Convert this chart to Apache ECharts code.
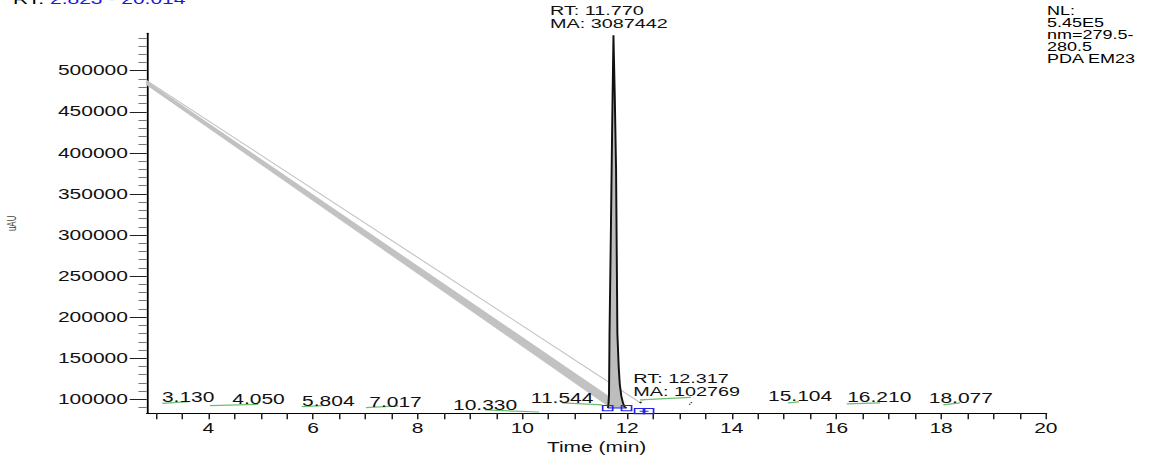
<!DOCTYPE html>
<html>
<head>
<meta charset="utf-8">
<script src="https://cdn.jsdelivr.net/npm/echarts@6/dist/echarts.min.js"></script>
<style>
html,body{margin:0;padding:0;overflow:hidden;background:#fff;width:1160px;height:457px}
#chart{width:774px;height:457px;transform:scaleX(1.5);transform-origin:0 0}
</style>
</head>
<body>
<div id="chart"></div>
<script>
// ---------- data ----------
const timeRange = [2.823, 20.014];
const signalRange = [83000, 545500];
const xTickLabels = [4, 6, 8, 10, 12, 14, 16, 18, 20];
const xTicks = [3, 3.5, 4, 4.5, 5, 5.5, 6, 6.5, 7, 7.5, 8, 8.5, 9, 9.5, 10, 10.5, 11, 11.5, 12, 12.5, 13, 13.5, 14, 14.5, 15, 15.5, 16, 16.5, 17, 17.5, 18, 18.5, 19, 19.5, 20];
const yTickLabels = [100000, 150000, 200000, 250000, 300000, 350000, 400000, 450000, 500000];
const yMinorTicks = [90000, 110000, 120000, 130000, 140000, 160000, 170000, 180000, 190000, 210000, 220000, 230000, 240000, 260000, 270000, 280000, 290000, 310000, 320000, 330000, 340000, 360000, 370000, 380000, 390000, 410000, 420000, 430000, 440000, 460000, 470000, 480000, 490000, 510000, 520000, 530000, 540000];

// main peak trace (RT 11.770)
const peakTime = [11.635, 11.645, 11.655, 11.665, 11.69, 11.715, 11.74, 11.765, 11.79, 11.805, 11.815, 11.84, 11.86, 11.89, 11.92, 11.95, 11.99];
const peakSignal = [89500, 95000, 105000, 180000, 300000, 430000, 543000, 470000, 380000, 260000, 180000, 140000, 119000, 104000, 96000, 91000, 89500];

// diagonal drift band and thin line
const bandTime = [2.823, 11.885, 11.60, 2.823];
const bandSignal = [487000, 93500, 93500, 482700];
const driftTime = [2.823, 12.25];
const driftSignal = [488000, 96000];

// peak baselines (green)
const baseT0 = [3.121, 4.03, 5.785, 7.013, 9.287, 10.76, 12.245, 15.075, 16.197, 18.043];
const baseV0 = [95100, 92300, 91100, 89900, 87100, 95600, 99300, 95600, 94400, 93200];
const baseT1 = [3.618, 4.955, 6.293, 7.63, 10.324, 11.525, 13.22, 15.285, 16.833, 18.36];
const baseV1 = [97300, 93900, 92700, 92000, 84600, 93200, 102400, 96800, 95600, 95600];

// peak labels
const peakLabels = ['3.130', '4.050', '5.804', '7.017', '10.330', '11.544', '15.104', '16.210', '18.077'];
const peakLabelTime = [3.616, 4.959, 6.293, 7.577, 9.287, 10.76, 15.305, 16.818, 18.377];
const peakLabelSignal = [102400, 99600, 97200, 96300, 92300, 101200, 103900, 102100, 100900];

// annotated peaks
const annotRT = ['RT: 11.770', 'RT: 12.317'];
const annotMA = ['MA: 3087442', 'MA: 102769'];
const annotTime = [10.528, 12.12];
const annotSignalRT = [573500, 125400];
const annotSignalMA = [557100, 108900];

// integration markers
const markATime = [11.63, 11.99];
const markASignal = [89300, 89300];
const markBTime = [12.24, 12.41];
const markBSignal = [85600, 85600];

// small peak traces
const smallTime = [12.245, 12.30];
const smallSignal = [95500, 98500];
const tinyTime = [13.19, 13.25];
const tinySignal = [93500, 97500];

// header texts
const rangeText = ['RT: ', '2.823', ' - ', '20.014'];
const infoLines = ['NL:', '5.45E5', 'nm=279.5-', '280.5', 'PDA EM23'];

// ---------- chart ----------
const FONT = '"Liberation Sans", Arial, sans-serif';
const pts = (ts, vs) => ts.map((t, i) => [t, vs[i]]);
const chart = echarts.init(document.getElementById('chart'), null, {renderer: 'svg'});

const option = {
  animation: false,
  backgroundColor: '#fff',
  grid: {left: 97.8, right: 76.3, top: 33.3, bottom: 43.7, outerBoundsMode: 'none', containLabel: false},
  xAxis: {
    type: 'value', min: timeRange[0], max: timeRange[1],
    axisLine: {show: true, onZero: false, lineStyle: {color: '#000', width: 1}},
    axisTick: {show: true, customValues: xTicks, length: 6, lineStyle: {color: '#222', width: 1}},
    axisLabel: {customValues: xTickLabels, formatter: v => String(v), fontSize: 14, fontFamily: FONT, color: '#111', margin: 8},
    splitLine: {show: false},
    name: 'Time (min)', nameLocation: 'middle', nameGap: 24,
    nameTextStyle: {fontSize: 14, fontFamily: FONT, color: '#111'}
  },
  yAxis: [{
    type: 'value', position: 'left', min: signalRange[0], max: signalRange[1],
    axisLine: {show: true, onZero: false, lineStyle: {color: '#000', width: 1.2}},
    axisTick: {show: true, customValues: yTickLabels, length: 11.3, lineStyle: {color: '#222', width: 1}},
    axisLabel: {customValues: yTickLabels, formatter: v => String(v), fontSize: 14, fontFamily: FONT, color: '#111', margin: 12.5},
    splitLine: {show: false},
    name: 'uAU', nameLocation: 'middle', nameRotate: 90, nameGap: 86,
    nameTextStyle: {fontSize: 8, fontFamily: FONT, color: '#444'}
  }, {
    type: 'value', position: 'left', min: signalRange[0], max: signalRange[1],
    axisLine: {show: false},
    axisTick: {show: true, customValues: yMinorTicks, length: 5.5, lineStyle: {color: '#777', width: 1}},
    axisLabel: {show: false},
    splitLine: {show: false}
  }],
  graphic: [{
    type: 'text', left: 8.7, top: -8, silent: true,
    style: {
      text: '{k|' + rangeText[0] + '}{v|' + rangeText[1] + '}{d|' + rangeText[2] + '}{v|' + rangeText[3] + '}',
      rich: {
        k: {fill: '#000', fontSize: 14, fontFamily: FONT},
        v: {fill: '#1a1adb', fontSize: 14, fontFamily: FONT},
        d: {fill: '#a9a9d9', fontSize: 14, fontFamily: FONT}
      }
    }
  }, {
    type: 'text', left: 698, top: 5, silent: true,
    style: {
      text: infoLines.join('\n'),
      fill: '#000', fontSize: 12, fontFamily: FONT, lineHeight: 12
    }
  }],
  series: [
    {
      name: 'drift band', type: 'custom', clip: false, silent: true, z: 1,
      data: [[bandTime[0], bandSignal[0]]],
      renderItem: (params, api) => ({
        type: 'polygon',
        shape: {points: bandTime.map((t, i) => api.coord([t, bandSignal[i]]))},
        style: {fill: '#c2c2c2', stroke: '#bdbdbd', lineWidth: 0.5}
      })
    },
    {
      name: 'drift line', type: 'line', showSymbol: false, silent: true, z: 2,
      data: pts(driftTime, driftSignal),
      lineStyle: {color: '#c4c4c4', width: 1}
    },
    {
      name: 'peak fill', type: 'custom', clip: false, silent: true, z: 3,
      data: [[peakTime[0], peakSignal[0]]],
      renderItem: (params, api) => ({
        type: 'polygon',
        shape: {points: peakTime.map((t, i) => api.coord([t, peakSignal[i]]))},
        style: {fill: '#bdbdbd'}
      })
    },
    {
      name: 'peak trace', type: 'line', showSymbol: false, silent: true, z: 4,
      data: pts(peakTime, peakSignal),
      lineStyle: {color: '#111', width: 1.3}
    },
    {
      name: 'baselines', type: 'custom', clip: false, silent: true, z: 5,
      encode: {x: [0, 2], y: [1, 3]},
      data: baseT0.map((t, i) => [t, baseV0[i], baseT1[i], baseV1[i]]),
      renderItem: (params, api) => {
        const a = api.coord([api.value(0), api.value(1)]);
        const b = api.coord([api.value(2), api.value(3)]);
        return {type: 'line', shape: {x1: a[0], y1: a[1], x2: b[0], y2: b[1]},
          style: {stroke: '#6cbf6c', lineWidth: 1.2}};
      }
    },
    {
      name: 'small peak', type: 'line', showSymbol: false, silent: true, z: 5,
      data: pts(smallTime, smallSignal),
      lineStyle: {color: '#222', width: 1.5, type: 'dotted'}
    },
    {
      name: 'tiny peak', type: 'line', showSymbol: false, silent: true, z: 5,
      data: pts(tinyTime, tinySignal),
      lineStyle: {color: '#333', width: 1, type: 'dotted'}
    },
    {
      name: 'markers A', type: 'line', silent: true, z: 6,
      data: pts(markATime, markASignal),
      symbol: 'rect', symbolSize: [6.7, 5.3], showSymbol: true,
      lineStyle: {color: '#2525e6', width: 1},
      itemStyle: {color: 'rgba(255,255,255,0)', borderColor: '#2525e6', borderWidth: 1}
    },
    {
      name: 'markers B', type: 'line', silent: true, z: 6,
      data: pts(markBTime, markBSignal),
      symbol: 'rect', symbolSize: [6.7, 5.3], showSymbol: true,
      lineStyle: {color: '#2525e6', width: 1},
      itemStyle: {color: 'rgba(255,255,255,0)', borderColor: '#2525e6', borderWidth: 1}
    },
    {
      name: 'peak labels', type: 'custom', clip: false, silent: true, z: 7,
      data: peakLabelTime.map((t, i) => [t, peakLabelSignal[i], i]),
      renderItem: (params, api) => {
        const p = api.coord([api.value(0), api.value(1)]);
        return {type: 'text', x: p[0], y: p[1],
          style: {text: peakLabels[api.value(2)], fill: '#111', fontSize: 14, fontFamily: FONT,
            align: 'center', verticalAlign: 'middle'}};
      }
    },
    {
      name: 'annotations', type: 'custom', clip: false, silent: true, z: 7,
      encode: {x: 0, y: [1, 2]},
      data: annotTime.map((t, i) => [t, annotSignalRT[i], annotSignalMA[i], i]),
      renderItem: (params, api) => {
        const i = api.value(3);
        const a = api.coord([api.value(0), api.value(1)]);
        const b = api.coord([api.value(0), api.value(2)]);
        return {type: 'group', children: [
          {type: 'text', x: a[0], y: a[1], style: {text: annotRT[i], fill: '#111', fontSize: 13.2, fontFamily: FONT, align: 'left', verticalAlign: 'middle'}},
          {type: 'text', x: b[0], y: b[1], style: {text: annotMA[i], fill: '#111', fontSize: 13.2, fontFamily: FONT, align: 'left', verticalAlign: 'middle'}}
        ]};
      }
    }
  ]
};
chart.setOption(option);
</script>
</body>
</html>
